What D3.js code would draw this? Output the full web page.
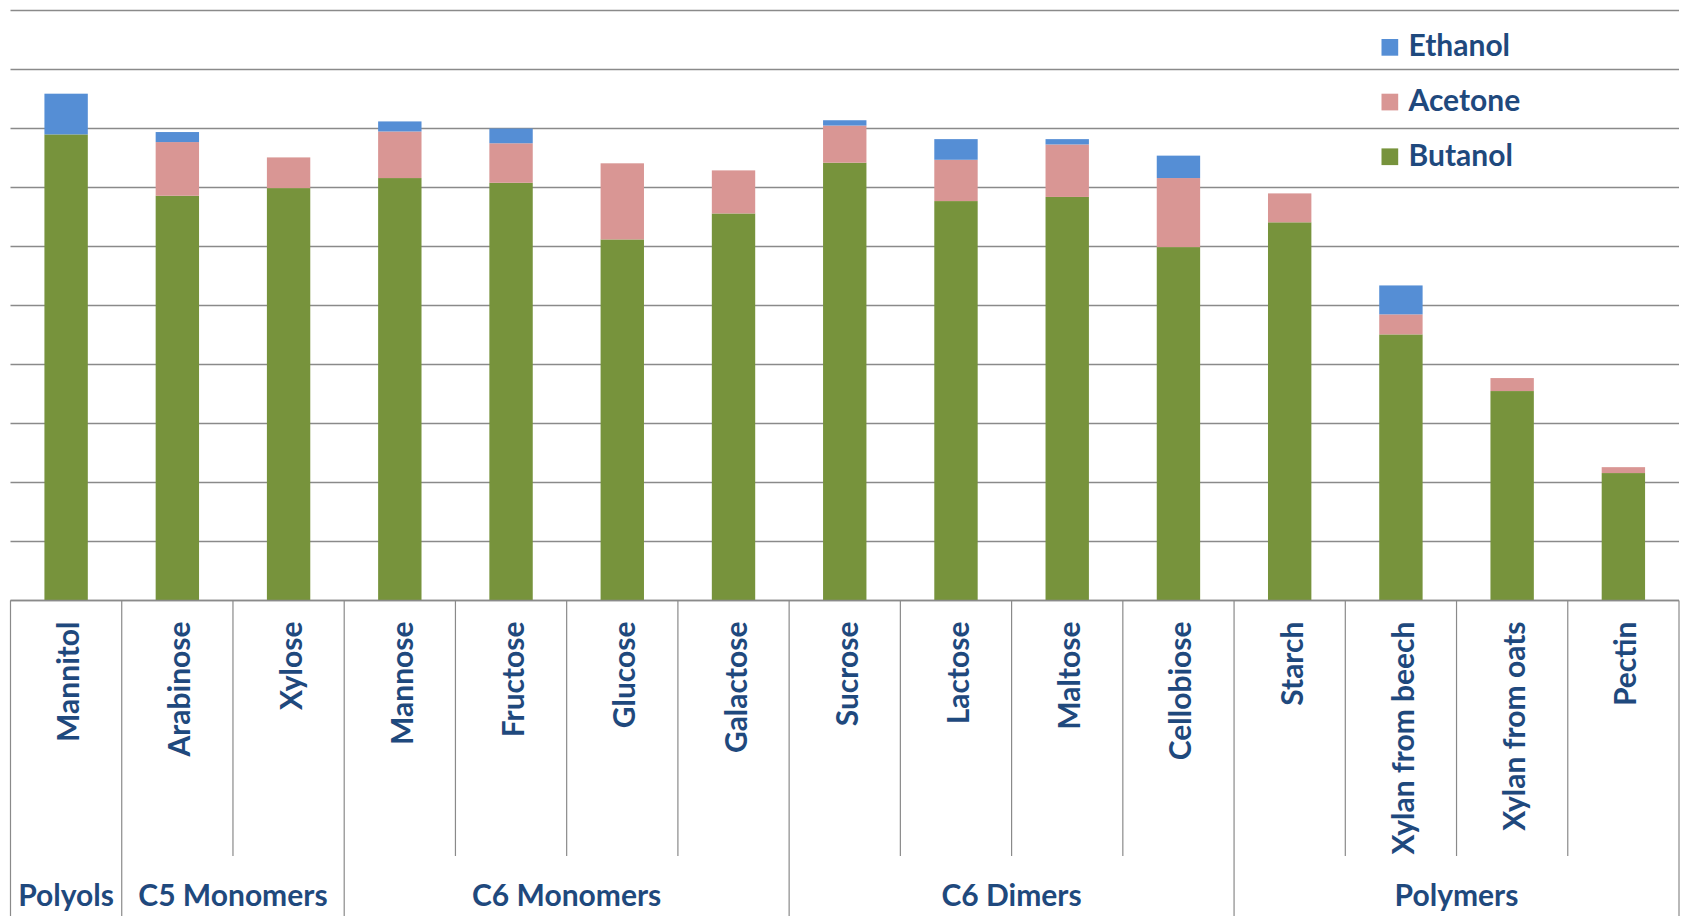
<!DOCTYPE html>
<html>
<head>
<meta charset="utf-8">
<script src="https://cdn.jsdelivr.net/npm/d3@7"></script>
<style>
  body { margin: 0; background: #fff; }
  svg text { font-family: Lato, "Open Sans", sans-serif; font-weight: 700; fill: #1F497D; }
</style>
</head>
<body>
<svg id="chart"></svg>
<script>
// Substrates, grouped as on the category axis
const categories = ['Mannitol', 'Arabinose', 'Xylose', 'Mannose', 'Fructose', 'Glucose', 'Galactose',
    'Sucrose', 'Lactose', 'Maltose', 'Cellobiose', 'Starch', 'Xylan from beech', 'Xylan from oats', 'Pectin'];
const groups = ['Polyols', 'C5 Monomers', 'C6 Monomers', 'C6 Dimers', 'Polymers'];
const groupSizes = [1, 2, 4, 4, 4];

// Solvent amounts (one gridline = 1)
const butanol = [7.90, 6.86, 6.99, 7.16, 7.08, 6.12, 6.56, 7.42, 6.77, 6.84, 5.99, 6.41, 4.51, 3.55, 2.16];
const acetone = [0.00, 0.91, 0.52, 0.79, 0.67, 1.29, 0.73, 0.63, 0.70, 0.89, 1.17, 0.49, 0.34, 0.22, 0.10];
const ethanol = [0.69, 0.17, 0.00, 0.17, 0.25, 0.00, 0.00, 0.09, 0.35, 0.09, 0.38, 0.00, 0.49, 0.00, 0.00];

const seriesKeys = ['Butanol', 'Acetone', 'Ethanol'];
const seriesColors = ['#77933C', '#D99694', '#558ED5'];
const yDomain = [0, 10];

const width = 1685, height = 916;
const left = 10.5, right = 1679;
const axisY = 600.5, topY = 10.5;
const innerSepBottom = 856;
const fontSize = 30;

const svg = d3.select('#chart')
    .attr('width', width)
    .attr('height', height);

const y = d3.scaleLinear().domain(yDomain).range([axisY, topY]);

// cells for the category axis, bars sit centred in each cell
const xCell = d3.scaleBand().domain(categories).range([left, right]);
const x = d3.scaleBand().domain(categories).range([left, right])
    .paddingInner(0.61).paddingOuter(0.305);

// gridlines
svg.append('g')
    .selectAll('line')
    .data(y.ticks(10))
    .join('line')
    .attr('x1', left)
    .attr('x2', right)
    .attr('y1', d => y(d))
    .attr('y2', d => y(d))
    .attr('stroke', '#8a8a8a')
    .attr('stroke-width', 1.3);

// stacked bars
const rows = categories.map((c, i) => ({
    category: c, Butanol: butanol[i], Acetone: acetone[i], Ethanol: ethanol[i]
}));
const stacked = d3.stack().keys(seriesKeys)(rows);

svg.append('g')
    .selectAll('g')
    .data(stacked)
    .join('g')
    .attr('fill', (d, i) => seriesColors[i])
    .selectAll('rect')
    .data(d => d.filter(p => p[1] - p[0] > 0))
    .join('rect')
    .attr('x', d => x(d.data.category))
    .attr('width', x.bandwidth())
    .attr('y', d => y(d[1]))
    .attr('height', d => y(d[0]) - y(d[1]));

// category separators, longer ones between groups
const groupEnds = d3.cumsum(groupSizes);
const bounds = d3.range(categories.length + 1);
const boundX = i => i < categories.length ? xCell(categories[i]) : right;

svg.append('g')
    .selectAll('line')
    .data(bounds)
    .join('line')
    .attr('x1', i => boundX(i))
    .attr('x2', i => boundX(i))
    .attr('y1', axisY)
    .attr('y2', i => (i === 0 || groupEnds.includes(i)) ? height : innerSepBottom)
    .attr('stroke', '#8a8a8a')
    .attr('stroke-width', 1.2);

// axis line
svg.append('line')
    .attr('x1', left)
    .attr('x2', right)
    .attr('y1', y(0))
    .attr('y2', y(0))
    .attr('stroke', '#8a8a8a')
    .attr('stroke-width', 1.3);

// rotated category labels
svg.append('g')
    .selectAll('text')
    .data(categories)
    .join('text')
    .attr('transform', d => `translate(${xCell(d) + xCell.bandwidth() / 2 + 13},621.5) rotate(-90)`)
    .attr('text-anchor', 'end')
    .style('font-size', fontSize + 'px')
    .text(d => d);

// group labels
const groupStarts = [0, ...groupEnds.slice(0, -1)];
svg.append('g')
    .selectAll('text')
    .data(groups)
    .join('text')
    .attr('x', (d, i) => (boundX(groupStarts[i]) + boundX(groupEnds[i])) / 2)
    .attr('y', 905.5)
    .attr('text-anchor', 'middle')
    .style('font-size', fontSize + 'px')
    .text(d => d);

// legend, Ethanol on top
const legendKeys = seriesKeys.slice().reverse();
const legendColors = seriesColors.slice().reverse();
const legend = svg.append('g')
    .selectAll('g')
    .data(legendKeys)
    .join('g')
    .attr('transform', (d, i) => `translate(1381.5,${47.3 + i * 54.7})`);

legend.append('rect')
    .attr('x', 0)
    .attr('y', -8.3)
    .attr('width', 16.7)
    .attr('height', 16.7)
    .attr('fill', (d, i) => legendColors[i]);

legend.append('text')
    .attr('x', 27)
    .attr('y', 9)
    .style('font-size', fontSize + 'px')
    .text(d => d);
</script>
</body>
</html>
